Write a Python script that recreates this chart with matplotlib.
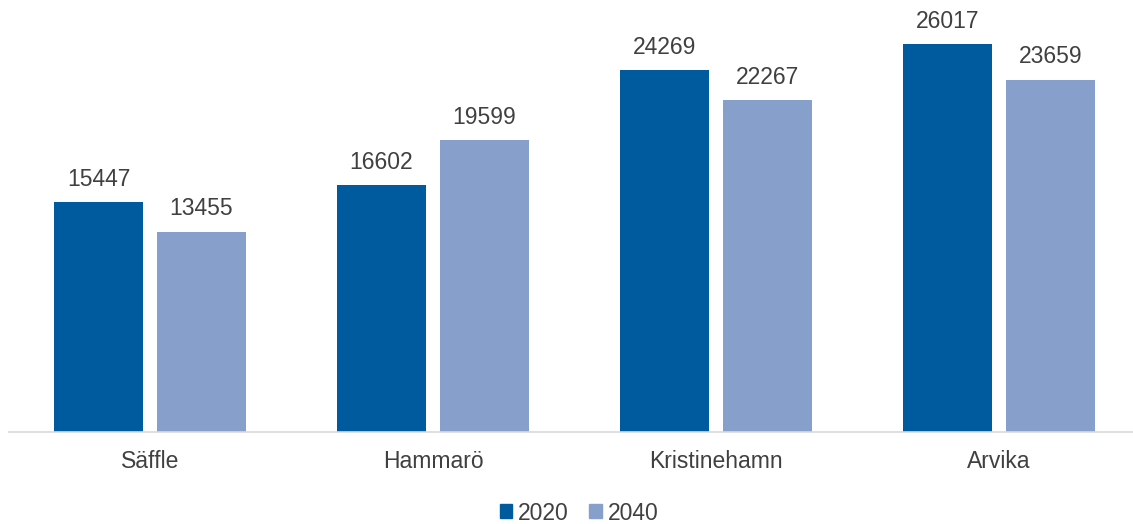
import matplotlib.pyplot as plt
import numpy as np
from matplotlib.patches import Patch

plt.rcParams['font.family'] = ['Liberation Sans', 'DejaVu Sans']

categories = ['Säffle', 'Hammarö', 'Kristinehamn', 'Arvika']
values_2020 = [15447, 16602, 24269, 26017]
values_2040 = [13455, 19599, 22267, 23659]
series_names = ['2020', '2040']
colors = ['#005A9E', '#87A0CB']

fig = plt.figure(figsize=(11.33, 5.24), dpi=100)
# category pitch ~283 px, axis slightly wider than the figure on the right
ax = fig.add_axes([8.5 / 1133, 92 / 524, 1132 / 1133, 432 / 524])

x = np.arange(len(categories))
width = 0.3145
offset = width / 2 + 0.0248

bars1 = ax.bar(x - offset, values_2020, width, color=colors[0])
bars2 = ax.bar(x + offset, values_2040, width, color=colors[1])

for bars in (bars1, bars2):
    for b in bars:
        ax.annotate(str(int(b.get_height())),
                    (b.get_x() + b.get_width() / 2, b.get_height()),
                    xytext=(0, 8), textcoords='offset points',
                    ha='center', va='bottom', fontsize=16.5, color='#404040')

ax.set_xlim(-0.5, len(categories) - 0.5)
ax.set_ylim(0, 29000)
ax.set_xticks(x)
ax.set_xticklabels(categories, fontsize=16.5, color='#404040')
ax.tick_params(axis='x', length=0, pad=13)
ax.set_yticks([])
for s in ['top', 'right', 'left']:
    ax.spines[s].set_visible(False)
ax.spines['bottom'].set_color('#D9D9D9')
ax.spines['bottom'].set_linewidth(1.2)

handles = [Patch(color=c, label=n) for c, n in zip(colors, series_names)]
fig.legend(handles=handles, loc='center', bbox_to_anchor=(0.511, 1 - 513 / 524),
           ncol=2, frameon=False, fontsize=16.5, handlelength=0.55, handleheight=0.55,
           handletextpad=0.25, columnspacing=0.9, labelcolor='#404040')

fig.savefig('out.png', dpi=100)
